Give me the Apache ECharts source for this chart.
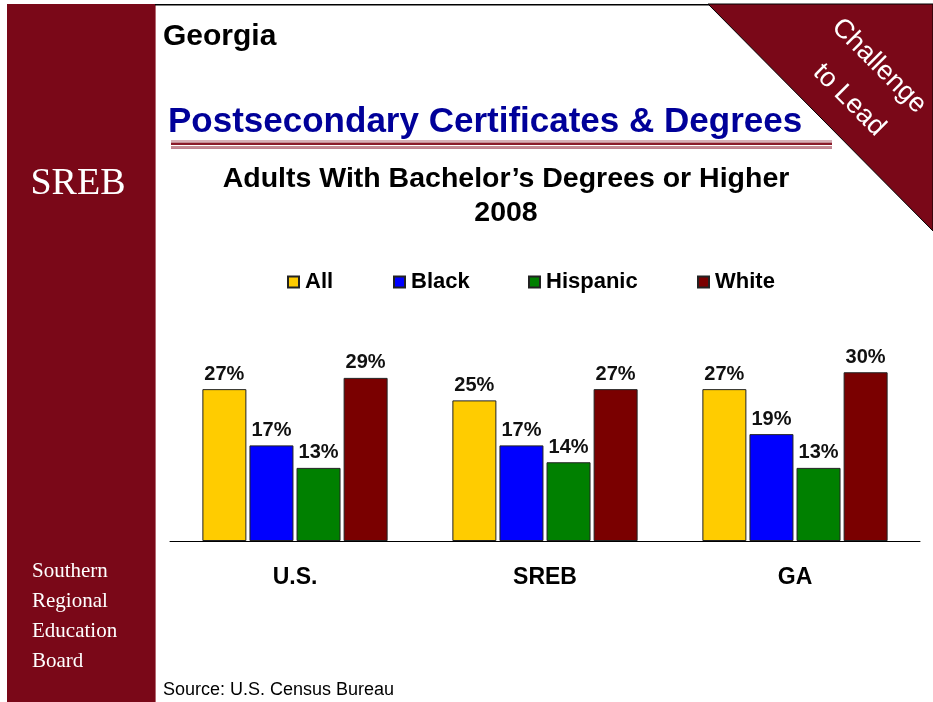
<!DOCTYPE html>
<html>
<head>
<meta charset="utf-8">
<script src="https://cdn.jsdelivr.net/npm/echarts@6/dist/echarts.min.js"></script>
<style>
html,body{margin:0;padding:0;background:#fff;}
#chart{width:933px;height:702px;}
</style>
</head>
<body>
<div id="chart"></div>
<script>
const categories = ['U.S.', 'SREB', 'GA'];
const seriesNames = ['All', 'Black', 'Hispanic', 'White'];
const allValues = [27, 25, 27];
const blackValues = [17, 17, 19];
const hispanicValues = [13, 14, 13];
const whiteValues = [29, 27, 30];
const seriesColors = ['#FFCC00', '#0000FF', '#008000', '#7A0000'];
const seriesValues = [allValues, blackValues, hispanicValues, whiteValues];
const legendLeft = [282, 388, 523, 692];

const maroon = '#7A0818';
const font = 'Liberation Sans, Arial, sans-serif';
const serif = 'Liberation Serif, Times New Roman, serif';

const chart = echarts.init(document.getElementById('chart'));

const series = seriesNames.map((name, i) => ({
  name: name,
  type: 'bar',
  data: seriesValues[i],
  barWidth: 44,
  barGap: '7%',
  itemStyle: { color: seriesColors[i], borderColor: '#222', borderWidth: 1 },
  label: {
    show: true, position: 'top', distance: 5,
    formatter: '{c}%', color: '#111', fontFamily: font, fontWeight: 'bold', fontSize: 20
  }
}));

const legends = seriesNames.map((name, i) => ({
  data: [name],
  left: legendLeft[i], top: 266,
  icon: 'rect', itemWidth: 11, itemHeight: 11, itemGap: 6,
  textStyle: { fontFamily: font, fontWeight: 'bold', fontSize: 22, color: '#000', padding: [0,0,0,1] }
}));

chart.setOption({
  animation: false,
  backgroundColor: '#fff',
  title: {
    text: 'Adults With Bachelor\u2019s Degrees or Higher\n2008',
    left: 501, top: 157, textAlign: 'center',
    textStyle: { fontFamily: font, fontWeight: 'bold', fontSize: 28.5, lineHeight: 34, color: '#000' }
  },
  legend: legends,
  grid: { left: 170, right: 13, top: 316, bottom: 161 },
  xAxis: {
    type: 'category', data: categories,
    axisLine: { lineStyle: { color: '#000', width: 1 } },
    axisTick: { show: false },
    axisLabel: { margin: 25, fontFamily: font, fontWeight: 'bold', fontSize: 23, color: '#000' }
  },
  yAxis: { type: 'value', min: 0, max: 40, show: false, splitLine: { show: false } },
  series: series,
  graphic: [
    { type: 'rect', shape: { x: 7, y: 4, width: 148, height: 698 }, style: { fill: maroon }, z: 0 },
    { type: 'rect', shape: { x: 155, y: 4, width: 1, height: 698 }, style: { fill: '#b56a72' }, z: 0 },
    { type: 'rect', shape: { x: 155, y: 4, width: 778, height: 1.5 }, style: { fill: '#000' }, z: 0 },
    { type: 'polygon', shape: { points: [[708, 4], [933, 4], [933, 231]] }, style: { fill: maroon, stroke: '#000', lineWidth: 1 }, z: 1 },
    { type: 'text', x: 879, y: 66, rotation: -Math.PI / 4, style: { text: 'Challenge', fill: '#fff', font: '27px ' + font, align: 'center', verticalAlign: 'middle' }, z: 2 },
    { type: 'text', x: 849, y: 100, rotation: -Math.PI / 4, style: { text: 'to Lead', fill: '#fff', font: '27px ' + font, align: 'center', verticalAlign: 'middle' }, z: 2 },
    { type: 'text', x: 163, y: 37, style: { text: 'Georgia', fill: '#000', font: 'bold 30px ' + font, verticalAlign: 'middle' }, z: 2 },
    { type: 'text', x: 168, y: 122, style: { text: 'Postsecondary Certificates & Degrees', fill: '#000099', font: 'bold 35px ' + font, verticalAlign: 'middle' }, z: 2 },
    { type: 'rect', shape: { x: 171, y: 140.5, width: 661, height: 1 }, style: { fill: '#b06070' }, z: 2 },
    { type: 'rect', shape: { x: 171, y: 142.5, width: 661, height: 2.5 }, style: { fill: '#8a1a2a' }, z: 2 },
    { type: 'rect', shape: { x: 171, y: 146.5, width: 661, height: 1 }, style: { fill: '#8a1a2a' }, z: 2 },
    { type: 'rect', shape: { x: 171, y: 148, width: 661, height: 1 }, style: { fill: '#c08090' }, z: 2 },
    { type: 'text', x: 78, y: 184, style: { text: 'SREB', fill: '#fff', font: '38px ' + serif, align: 'center', verticalAlign: 'middle' }, z: 2 },
    { type: 'text', x: 32, y: 571, style: { text: 'Southern', fill: '#fff', font: '21px ' + serif, verticalAlign: 'middle' }, z: 2 },
    { type: 'text', x: 32, y: 601, style: { text: 'Regional', fill: '#fff', font: '21px ' + serif, verticalAlign: 'middle' }, z: 2 },
    { type: 'text', x: 32, y: 631, style: { text: 'Education', fill: '#fff', font: '21px ' + serif, verticalAlign: 'middle' }, z: 2 },
    { type: 'text', x: 32, y: 661, style: { text: 'Board', fill: '#fff', font: '21px ' + serif, verticalAlign: 'middle' }, z: 2 },
    { type: 'text', x: 163, y: 690, style: { text: 'Source: U.S. Census Bureau', fill: '#000', font: '18px ' + font, verticalAlign: 'middle' }, z: 2 }
  ]
});
</script>
</body>
</html>
